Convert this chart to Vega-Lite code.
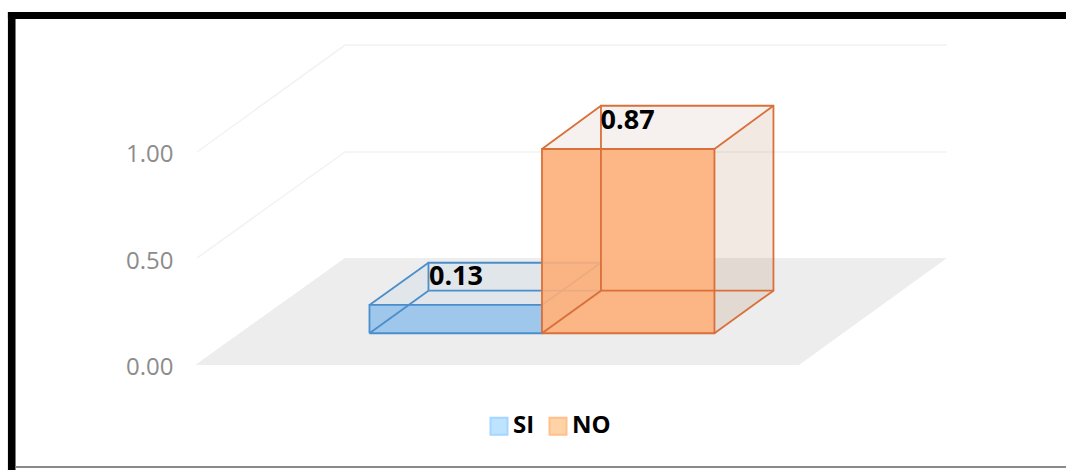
{"$schema":"https://vega.github.io/schema/vega-lite/v6.json","width":893,"height":470,"padding":{"left":173,"top":0,"right":0,"bottom":0},"autosize":{"type":"none"},"background":"white","view":{"stroke":null},
"datasets":{
"bars":[{"series":"SI","value":0.13,"position":1.345,"labelAt":0.376},{"series":"NO","value":0.87,"position":2.34,"labelAt":1.108}],
"floor":[{"position":-0.01,"low":0,"high":0},{"position":0.858,"low":0,"high":0.502},{"position":3.49,"low":0,"high":0.502},{"position":4.348,"low":0.502,"high":0.502}],
"grid":[{"g":"a","i":0,"position":0,"level":0.502},{"g":"a","i":1,"position":0.858,"level":1.0},{"g":"a","i":2,"position":4.348,"level":1.0},{"g":"b","i":0,"position":0,"level":1.0},{"g":"b","i":1,"position":0.858,"level":1.502},{"g":"b","i":2,"position":4.348,"level":1.502}],
"frame":[{"part":"top","x":-1.096,"x2":5.038,"y":1.657,"y2":1.624},{"part":"left","x":-1.096,"x2":-1.052,"y":1.657,"y2":-0.4985},{"part":"bottom","x":-1.052,"x2":5.038,"y":-0.474,"y2":-0.484}],
"faces":[
{"series":"SI","face":"front","position":1,"low":0.149,"high":0.282},{"series":"SI","face":"front","position":2,"low":0.149,"high":0.282},
{"series":"SI","face":"top","position":1,"low":0.282,"high":0.282},{"series":"SI","face":"top","position":1.342,"low":0.282,"high":0.48},{"series":"SI","face":"top","position":2,"low":0.282,"high":0.48},{"series":"SI","face":"top","position":2.342,"low":0.48,"high":0.48},
{"series":"SI","face":"side","position":2,"low":0.149,"high":0.282},{"series":"SI","face":"side","position":2.342,"low":0.349,"high":0.48},
{"series":"NO","face":"front","position":2,"low":0.149,"high":1.014},{"series":"NO","face":"front","position":3,"low":0.149,"high":1.014},
{"series":"NO","face":"top","position":2,"low":1.014,"high":1.014},{"series":"NO","face":"top","position":2.342,"low":1.014,"high":1.217},{"series":"NO","face":"top","position":3,"low":1.014,"high":1.217},{"series":"NO","face":"top","position":3.342,"low":1.217,"high":1.217},
{"series":"NO","face":"side","position":3,"low":0.149,"high":1.014},{"series":"NO","face":"side","position":3.342,"low":0.349,"high":1.217}],
"edges":[
{"series":"SI","e":"f","i":0,"position":1,"level":0.149},{"series":"SI","e":"f","i":1,"position":2,"level":0.149},{"series":"SI","e":"f","i":2,"position":2,"level":0.282},{"series":"SI","e":"f","i":3,"position":1,"level":0.282},{"series":"SI","e":"f","i":4,"position":1,"level":0.149},
{"series":"SI","e":"b","i":0,"position":1.342,"level":0.349},{"series":"SI","e":"b","i":1,"position":2.342,"level":0.349},{"series":"SI","e":"b","i":2,"position":2.342,"level":0.48},{"series":"SI","e":"b","i":3,"position":1.342,"level":0.48},{"series":"SI","e":"b","i":4,"position":1.342,"level":0.349},
{"series":"SI","e":"c1","i":0,"position":1,"level":0.149},{"series":"SI","e":"c1","i":1,"position":1.342,"level":0.349},
{"series":"SI","e":"c2","i":0,"position":2,"level":0.149},{"series":"SI","e":"c2","i":1,"position":2.342,"level":0.349},
{"series":"SI","e":"c3","i":0,"position":1,"level":0.282},{"series":"SI","e":"c3","i":1,"position":1.342,"level":0.48},
{"series":"SI","e":"c4","i":0,"position":2,"level":0.282},{"series":"SI","e":"c4","i":1,"position":2.342,"level":0.48},
{"series":"NO","e":"f","i":0,"position":2,"level":0.149},{"series":"NO","e":"f","i":1,"position":3,"level":0.149},{"series":"NO","e":"f","i":2,"position":3,"level":1.014},{"series":"NO","e":"f","i":3,"position":2,"level":1.014},{"series":"NO","e":"f","i":4,"position":2,"level":0.149},
{"series":"NO","e":"b","i":0,"position":2.342,"level":0.349},{"series":"NO","e":"b","i":1,"position":3.342,"level":0.349},{"series":"NO","e":"b","i":2,"position":3.342,"level":1.217},{"series":"NO","e":"b","i":3,"position":2.342,"level":1.217},{"series":"NO","e":"b","i":4,"position":2.342,"level":0.349},
{"series":"NO","e":"c1","i":0,"position":2,"level":0.149},{"series":"NO","e":"c1","i":1,"position":2.342,"level":0.349},
{"series":"NO","e":"c2","i":0,"position":3,"level":0.149},{"series":"NO","e":"c2","i":1,"position":3.342,"level":0.349},
{"series":"NO","e":"c3","i":0,"position":2,"level":1.014},{"series":"NO","e":"c3","i":1,"position":2.342,"level":1.217},
{"series":"NO","e":"c4","i":0,"position":3,"level":1.014},{"series":"NO","e":"c4","i":1,"position":3.342,"level":1.217}]
},
"encoding":{
"x":{"field":"position","type":"quantitative","scale":{"domain":[-0.139,5.038],"nice":false,"zero":false},"axis":null},
"y":{"field":"level","type":"quantitative","scale":{"domain":[-0.493,1.7136],"nice":false,"zero":false},"axis":{"values":[0,0.5,1],"format":".2f","title":null,"domain":false,"ticks":false,"grid":false,"labelPadding":0,"labelFont":"Open Sans","labelFontSize":24,"labelColor":"#8c8c8c","labelOffset":3}}
},
"layer":[
{"data":{"name":"grid"},"mark":{"type":"line","stroke":"#F2F2F2","strokeWidth":1.5},"encoding":{"detail":{"field":"g"},"order":{"field":"i","type":"quantitative"}}},
{"data":{"name":"frame"},"transform":[{"filter":"datum.part!=='bottom'"}],"mark":{"type":"rect","fill":"#000000"},"encoding":{"x":{"field":"x","type":"quantitative","axis":null},"x2":{"field":"x2"},"y":{"field":"y","type":"quantitative"},"y2":{"field":"y2"}}},
{"data":{"name":"frame"},"transform":[{"filter":"datum.part==='bottom'"}],"mark":{"type":"rect","fill":"#8a8a8a"},"encoding":{"x":{"field":"x","type":"quantitative","axis":null},"x2":{"field":"x2"},"y":{"field":"y","type":"quantitative"},"y2":{"field":"y2"}}},
{"data":{"name":"floor"},"mark":{"type":"area","fill":"#EDEDED"},"encoding":{"y":{"field":"low","type":"quantitative"},"y2":{"field":"high"}}},
{"data":{"name":"faces"},"transform":[{"filter":"datum.series==='SI'&&datum.face==='top'"}],"mark":{"type":"area","fill":"#7FB0DC","fillOpacity":0.1},"encoding":{"y":{"field":"low","type":"quantitative"},"y2":{"field":"high"}}},
{"data":{"name":"faces"},"transform":[{"filter":"datum.series==='SI'&&datum.face==='side'"}],"mark":{"type":"area","fill":"#7FB0DC","fillOpacity":0.12},"encoding":{"y":{"field":"low","type":"quantitative"},"y2":{"field":"high"}}},
{"data":{"name":"faces"},"transform":[{"filter":"datum.series==='SI'&&datum.face==='front'"}],"mark":{"type":"area","fill":"#94C2EB","fillOpacity":0.88},"encoding":{"y":{"field":"low","type":"quantitative"},"y2":{"field":"high"}}},
{"data":{"name":"edges"},"transform":[{"filter":"datum.series==='SI'"}],"mark":{"type":"line","stroke":"#4A8FCC","strokeWidth":1.8},"encoding":{"detail":{"field":"e"},"order":{"field":"i","type":"quantitative"}}},
{"data":{"name":"faces"},"transform":[{"filter":"datum.series==='NO'&&datum.face==='top'"}],"mark":{"type":"area","fill":"#A57355","fillOpacity":0.1},"encoding":{"y":{"field":"low","type":"quantitative"},"y2":{"field":"high"}}},
{"data":{"name":"faces"},"transform":[{"filter":"datum.series==='NO'&&datum.face==='side'"}],"mark":{"type":"area","fill":"#934816","fillOpacity":0.12},"encoding":{"y":{"field":"low","type":"quantitative"},"y2":{"field":"high"}}},
{"data":{"name":"faces"},"transform":[{"filter":"datum.series==='NO'&&datum.face==='front'"}],"mark":{"type":"area","fill":"#FDAE78","fillOpacity":0.9},"encoding":{"y":{"field":"low","type":"quantitative"},"y2":{"field":"high"}}},
{"data":{"name":"edges"},"transform":[{"filter":"datum.series==='NO'"}],"mark":{"type":"line","stroke":"#D9703A","strokeWidth":1.8},"encoding":{"detail":{"field":"e"},"order":{"field":"i","type":"quantitative"}}},
{"data":{"name":"bars"},"mark":{"type":"text","align":"left","baseline":"alphabetic","font":"Open Sans","fontWeight":"bold","fontSize":27,"fill":"#000000"},"encoding":{"y":{"field":"labelAt","type":"quantitative"},"text":{"field":"value","type":"quantitative","format":".2f"}}},
{"data":{"name":"bars"},"mark":{"type":"point","filled":true,"shape":"square","opacity":0,"strokeWidth":2},"encoding":{"y":{"field":"labelAt","type":"quantitative"},
"fill":{"field":"series","type":"nominal","scale":{"domain":["SI","NO"],"range":["#BDE3FF","#FFD3A5"]},"legend":{"title":null,"orient":"none","legendX":314,"legendY":414,"direction":"horizontal","padding":0,"symbolType":"square","symbolSize":289,"symbolOpacity":1,"symbolStrokeWidth":2,"labelFont":"Open Sans","labelFontWeight":"bold","labelFontSize":24,"labelColor":"#000000","labelOffset":2,"columnPadding":10,"encode":{"symbols":{"update":{"opacity":{"value":1},"stroke":{"signal":"datum.value==='SI'?'#A5D6FF':'#FFC08C'"}}}}}}}}
]}
